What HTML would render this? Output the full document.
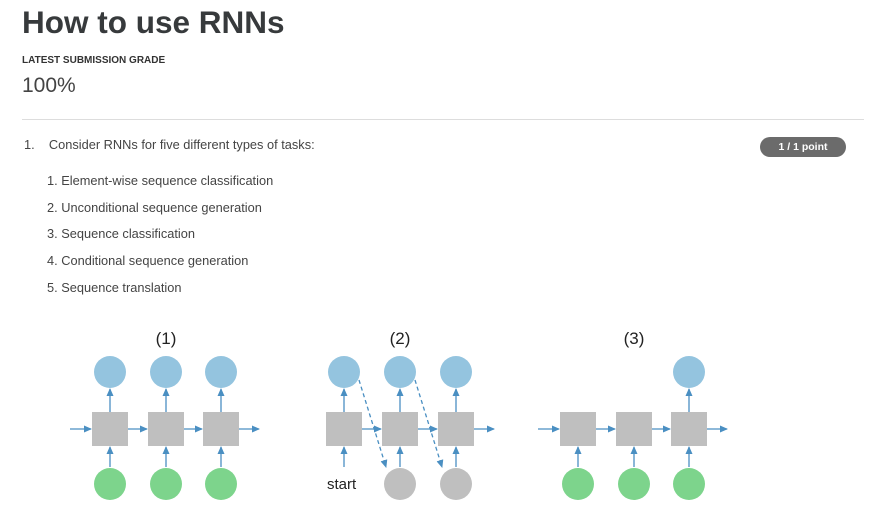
<!DOCTYPE html>
<html><head><meta charset="utf-8"><style>
body{margin:0;width:876px;height:515px;background:#fff;font-family:"Liberation Sans",sans-serif;color:#333;position:relative;overflow:hidden}
.a{position:absolute;white-space:nowrap}
</style></head><body>
<div class="a" style="left:22px;top:4px;font-size:31.5px;font-weight:bold;color:#373a3c">How to use RNNs</div>
<div class="a" style="left:22px;top:55px;font-size:10px;font-weight:bold;color:#333">LATEST SUBMISSION GRADE</div>
<div class="a" style="left:22px;top:74px;font-size:21px;color:#444">100%</div>
<div class="a" style="left:22px;top:119px;width:842px;height:1px;background:#ddd"></div>
<div class="a" style="left:24px;top:137px;font-size:12.8px;color:#444">1.&nbsp;&nbsp;&nbsp;&nbsp;Consider RNNs for five different types of tasks:</div>
<div class="a" style="left:760px;top:137px;width:86px;height:20px;border-radius:10px;background:#6b6b6b;color:#fff;font-size:10.5px;font-weight:bold;text-align:center;line-height:20px">1 / 1 point</div>
<div class="a" style="left:47px;top:173px;font-size:12.8px;color:#444">1. Element-wise sequence classification</div>
<div class="a" style="left:47px;top:200px;font-size:12.8px;color:#444">2. Unconditional sequence generation</div>
<div class="a" style="left:47px;top:226px;font-size:12.8px;color:#444">3. Sequence classification</div>
<div class="a" style="left:47px;top:253px;font-size:12.8px;color:#444">4. Conditional sequence generation</div>
<div class="a" style="left:47px;top:280px;font-size:12.8px;color:#444">5. Sequence translation</div>
<svg class="a" style="left:0;top:0" width="876" height="515">
<defs><marker id="ah" markerWidth="8" markerHeight="8" refX="7" refY="4" orient="auto" markerUnits="userSpaceOnUse"><path d="M0,0.5 L8,4 L0,7.5z" fill="#4a8fc2"/></marker></defs>
<g id="s"></g>
<g id="g" stroke="#4a8fc2" stroke-width="1.3" fill="none" marker-end="url(#ah)"></g>
</svg>
<script>
const S=document.getElementById('s'),G=document.getElementById('g');
function el(t,a,p){const e=document.createElementNS('http://www.w3.org/2000/svg',t);for(const k in a)e.setAttribute(k,a[k]);(p||S).appendChild(e);return e;}
function ln(x1,y1,x2,y2,d){const e=el('line',{x1,y1,x2,y2},G);if(d)e.setAttribute('stroke-dasharray','4,3');return e;}
const BY=429,TY=372,LY=484;
function diagram(cx,label,tops,bottoms,start){
 const t=el('text',{x:cx[1],y:344,'text-anchor':'middle','font-size':'17','font-family':'Liberation Sans, sans-serif',fill:'#222'});t.textContent=label;
 
 
 if(!start)ln(cx[0]-40,BY,cx[0]-19,BY);
 cx.forEach((x,i)=>{
  const b=el('rect',{x:x-18,y:BY-17,width:36,height:34,fill:'#bfbfbf'});
  
  
  if(i<2)ln(x+18,BY,cx[i+1]-19,BY);else ln(x+18,BY,x+38,BY);
  if(tops[i]){const c=el('circle',{cx:x,cy:TY,r:16,fill:'#94c4df'});ln(x,BY-17,x,TY+17);}
  if(bottoms[i]){const c=el('circle',{cx:x,cy:LY,r:16,fill:bottoms[i]});}
  ln(x,i==0&&start?467:LY-17,x,BY+18);
 });
}
diagram([110,166,221],'(1)',[1,1,1],['#7dd48c','#7dd48c','#7dd48c'],false);
diagram([344,400,456],'(2)',[1,1,1],[null,'#bfbfbf','#bfbfbf'],true);
diagram([578,634,689],'(3)',[0,0,1],['#7dd48c','#7dd48c','#7dd48c'],false);
ln(359,380,386,467,true);ln(415,380,442,467,true);
const st=el('text',{x:327,y:489,'font-size':'15','font-family':'Liberation Sans, sans-serif',fill:'#222'});st.textContent='start';


</script>
</body></html>
